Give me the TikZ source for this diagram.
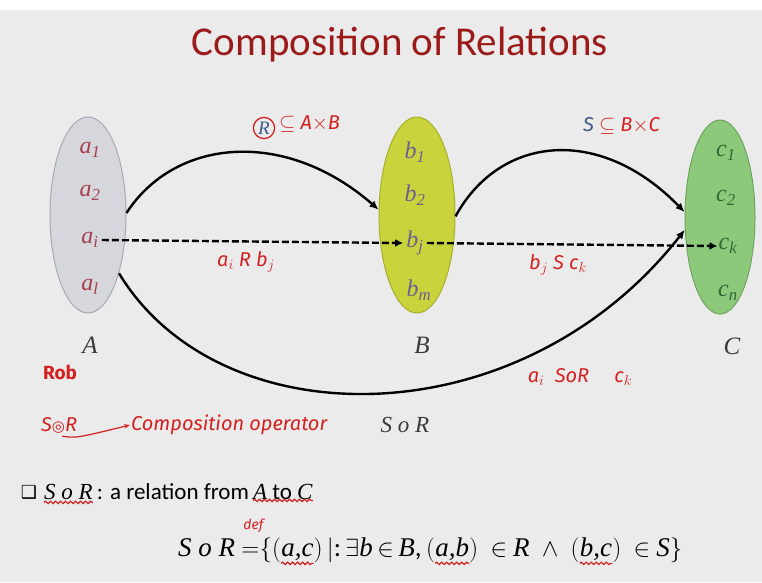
\documentclass[tikz,border=0pt]{standalone}
\usepackage{fontspec}
\setmainfont{Carlito}
\newfontfamily\hand{Fira Sans}
\newfontfamily\dejavu{DejaVu Sans}
\newfontfamily\cam{Liberation Serif}
\newcommand\ci[1]{{\cam\itshape #1}}
\newcommand\el[2]{{\cam\itshape #1}\textsubscript{\cam\itshape #2}}
\usetikzlibrary{arrows.meta,shapes.geometric,decorations.pathmorphing}
\definecolor{bg}{HTML}{EBEBEB}
\definecolor{titlered}{HTML}{9B1A1A}
\definecolor{hred}{HTML}{D42020}
\definecolor{afill}{HTML}{D6D6DD}
\definecolor{aline}{HTML}{A9A9B2}
\definecolor{bfill}{HTML}{C9D43C}
\definecolor{bline}{HTML}{A6B02E}
\definecolor{cfill}{HTML}{8DC97A}
\definecolor{cline}{HTML}{6BA55C}
\definecolor{acol}{HTML}{A4404C}
\definecolor{bcol}{HTML}{6E5F92}
\definecolor{ccol}{HTML}{2F6A35}
\definecolor{setcol}{HTML}{3A3A3A}
\definecolor{rblue}{HTML}{3A5A8A}
\begin{document}
\begin{tikzpicture}[x=1pt,y=-1pt,
  setell/.style={ellipse, draw, line width=1pt, inner sep=0pt, minimum width=#1},
  elem/.style={font=\fontsize{24}{26}\selectfont, inner sep=1pt},
  setname/.style={font=\cam\itshape\fontsize{25}{27}\selectfont, text=setcol, inner sep=1pt},
  rel/.style={line width=2.4pt, black, -{Latex[length=9pt,width=8pt]}},
  dashrel/.style={line width=2.4pt, black, dash pattern=on 7pt off 3pt, -{Latex[length=8pt,width=8pt]}},
  hw/.style={font=\hand\itshape\fontsize{20}{22}\selectfont, text=hred, inner sep=1pt},
  wavy/.style={draw=hred, line width=1.2pt, decorate, decoration={snake, amplitude=1.2pt, segment length=5pt}},
  fm/.style={font=\fontsize{27}{29}\selectfont, inner sep=0pt, anchor=base west}
]
\useasboundingbox (0,0) rectangle (762,582);
\fill[white] (0,0) rectangle (762,582);
\fill[bg] (0,10) rectangle (762,582);

\node[text=titlered, font=\fontsize{41}{45}\selectfont] (title) at (400,45) {Composition of Relations};

% sets
\node[setell=76pt, minimum height=196pt, fill=afill, draw=aline] (setA) at (88,215) {};
\node[setell=76pt, minimum height=196pt, fill=bfill, draw=bline] (setB) at (417,215) {};
\node[setell=70pt, minimum height=194pt, fill=cfill, draw=cline] (setC) at (720,217) {};

\node[elem, text=acol] (a1) at (90,150) {\el{a}{1}};
\node[elem, text=acol] (a2) at (90,193) {\el{a}{2}};
\node[elem, text=acol] (ai) at (90,240) {\el{a}{i}};
\node[elem, text=acol] (al) at (90,287) {\el{a}{l}};
\node[elem, text=bcol] (b1) at (415,152) {\el{b}{1}};
\node[elem, text=bcol] (b2) at (415,195) {\el{b}{2}};
\node[elem, text=bcol] (bj) at (415,243) {\el{b}{j}};
\node[elem, text=bcol] (bm) at (419,290) {\el{b}{m}};
\node[elem, text=ccol] (c1) at (726,153) {\el{c}{1}};
\node[elem, text=ccol] (c2) at (726,198) {\el{c}{2}};
\node[elem, text=ccol] (ck) at (728,246) {\el{c}{k}};
\node[elem, text=ccol] (cn) at (728,293) {\el{c}{n}};

\node[setname] (labA) at (90,345) {A};
\node[setname] (labB) at (422,345) {B};
\node[setname] (labC) at (732,346) {C};

% relations
\draw[rel] (setA.3) .. controls (175,138) and (285,128) .. (setB.172);
\draw[rel] (setB.-2) .. controls (500,135) and (600,125) .. (setC.172);
\draw[rel] (setA.-62) .. controls (220,440) and (520,440) .. (setC.-160);
\draw[dashrel] ([xshift=2pt]ai.east) -- ([xshift=-2pt]bj.west);
\draw[dashrel] ([xshift=2pt]bj.east) -- (ck.west);

% annotations
\node[circle, draw=hred, line width=1.3pt, inner sep=1.5pt, font=\cam\itshape\fontsize{19}{20}\selectfont, text=rblue] (Rc) at (264,128) {R};
\node[hw, anchor=west] (RAB) at (278,124) {$\subseteq$ A$\times$B};
\node[hw, anchor=west] (SBC) at (582,126) {{\color{rblue}S} $\subseteq$ B$\times$C};
\node[hw] (aRb) at (246,262) {a$_i$ R b$_j$};
\node[hw] (bSc) at (558,265) {b$_j$ S c$_k$};
\node[hw] (aSRc) at (580,377) {a$_i$ \ SoR \quad c$_k$};
\node[hw, font=\hand\bfseries\fontsize{19}{20}\selectfont] (rob) at (60,372) {Rob};
\node[hw, anchor=west] (sor) at (40,425) {S{\dejavu\fontsize{15}{16}\selectfont ◎}R};
\node[hw, anchor=west] (compop) at (130,425) {Composition operator};
\draw[hred, line width=1.2pt, -{Stealth[length=6pt]}] ([xshift=-16pt,yshift=-2pt]sor.south east) .. controls ([xshift=-2pt,yshift=-4pt]sor.south east) .. (compop.west);
\node[font=\cam\itshape\fontsize{23}{25}\selectfont, text=setcol] (sorlab) at (405,425) {S o R};

% bottom text
\node[font=\dejavu\fontsize{18}{20}\selectfont, inner sep=0pt] (box) at (29,492) {❑};
\node[fm, font=\fontsize{23}{25}\selectfont] (t1) at (44,499) {\ci{S o R}};
\node[fm, font=\fontsize{23}{25}\selectfont] (t2) at (t1.base east) {\,: a relation from\,};
\node[fm, font=\fontsize{23}{25}\selectfont] (t3) at (t2.base east) {\ci{A} to \ci{C}};
\draw[wavy] ([yshift=-3pt]t1.south west) -- ([yshift=-3pt]t1.south east);
\draw[wavy] ([yshift=-1pt]t3.south west) -- ([yshift=-1pt]t3.south east);

\node[fm] (f1) at (178,556) {\ci{S o R} $=$};
\node[fm] (f2) at (f1.base east) {$\{($};
\node[fm] (f3) at (f2.base east) {\ci{a,c}};
\node[fm] (f4) at (f3.base east) {$)\,|$:\,$\exists$\ci{b}\,$\in$\,\ci{B},\,$($};
\node[fm] (f5) at (f4.base east) {\ci{a,b}};
\node[fm] (f6) at (f5.base east) {$)$\ \ $\in$ \ci{R} \ $\wedge$ \ $($};
\node[fm] (f7) at (f6.base east) {\ci{b,c}};
\node[fm] (f8) at (f7.base east) {$)$\ \ $\in$ \ci{S}$\}$};
\node[hw, font=\hand\itshape\fontsize{14}{15}\selectfont] (def) at ([xshift=-6pt,yshift=30pt]f1.base east) {def};
\draw[wavy] ([yshift=-3pt]f3.south west) -- ([yshift=-3pt]f3.south east);
\draw[wavy] ([yshift=-3pt]f5.south west) -- ([yshift=-3pt]f5.south east);
\draw[wavy] ([yshift=-3pt]f7.south west) -- ([yshift=-3pt]f7.south east);
\end{tikzpicture}
\end{document}
